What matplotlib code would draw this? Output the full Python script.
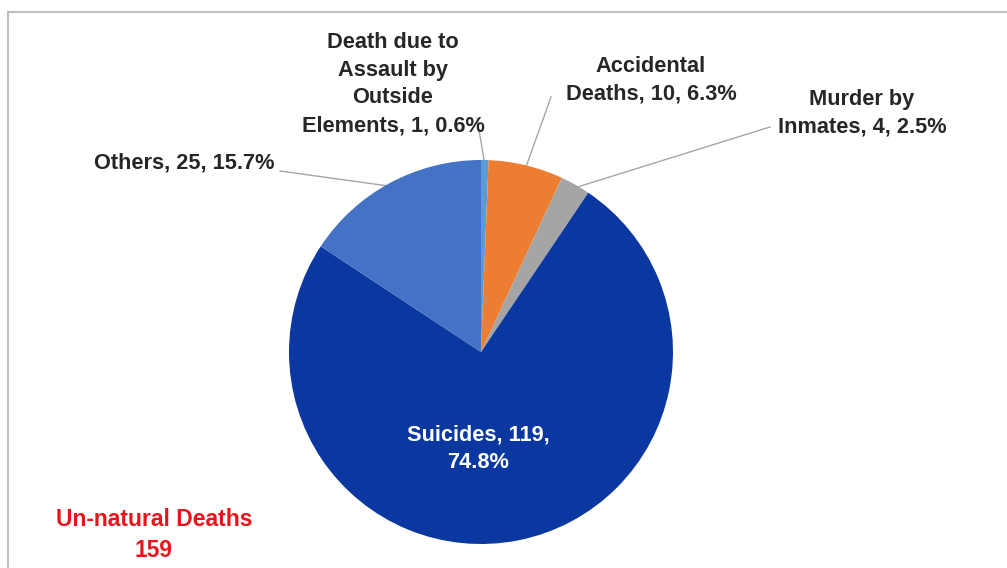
import matplotlib
matplotlib.use("Agg")
import matplotlib.pyplot as plt
import numpy as np
from matplotlib.patches import Rectangle

plt.rcParams['font.family'] = ['Liberation Sans', 'DejaVu Sans']

categories = ["Death due to Assault by Outside Elements", "Accidental Deaths",
              "Murder by Inmates", "Suicides", "Others"]
values = [1, 10, 4, 119, 25]
label_texts = ["Death due to\nAssault by\nOutside\nElements, 1, 0.6%",
               "Accidental\nDeaths, 10, 6.3%",
               "Murder by\nInmates, 4, 2.5%",
               "Suicides, 119,\n74.8%",
               "Others, 25, 15.7%"]
colors = ["#5b9bd5", "#ed7d31", "#a5a5a5", "#0b38a0", "#4472c4"]
total_label = "Un-natural Deaths\n159"

W, H = 1007, 568
fig = plt.figure(figsize=(W / 100, H / 100), dpi=100)
ax = fig.add_axes([0, 0, 1, 1])


def Y(py):
    return H - py


# frame
fig.patches.append(Rectangle((8 / W, -0.1), 1.2, (H - 12) / H + 0.1, transform=fig.transFigure,
                             fill=False, edgecolor="#bfbfbf", linewidth=1.5))

cx, cy, R = 481, 352, 192
wedges, _ = ax.pie(values, colors=colors, startangle=90, counterclock=False,
                   center=(cx, Y(cy)), radius=R, frame=True,
                   wedgeprops=dict(linewidth=0))
ax.set_xlim(0, W)
ax.set_ylim(0, H)
ax.set_aspect('auto')
ax.axis('off')

fs = 15.7
layout = {
    0: dict(x=393, y=84, end=(477, 118)),
    1: dict(x=651, y=80, end=(551, 97)),
    2: dict(x=862, y=113, end=(770, 127)),
    3: dict(x=478, y=449, end=None),
    4: dict(x=184, y=163, end=(280, 171)),
}
for i, w in enumerate(wedges):
    L = layout[i]
    col = 'white' if i == 3 else '#262626'
    ax.text(L['x'], Y(L['y']), label_texts[i], ha='center', va='center', fontsize=fs,
            fontweight='bold', color=col, linespacing=1.42)
    if L['end'] is not None:
        mid = np.deg2rad((w.theta1 + w.theta2) / 2)
        ex = cx + (R - 4) * np.cos(mid)
        ey = Y(cy) + (R - 4) * np.sin(mid)
        ax.plot([ex, L['end'][0]], [ey, Y(L['end'][1])], color='#a6a6a6', lw=1, zorder=0)

ax.text(154, Y(535), total_label, ha='center', va='center', fontsize=16.5,
        fontweight='bold', color='#e8141c', linespacing=1.4)

fig.savefig("out.png", dpi=100)
